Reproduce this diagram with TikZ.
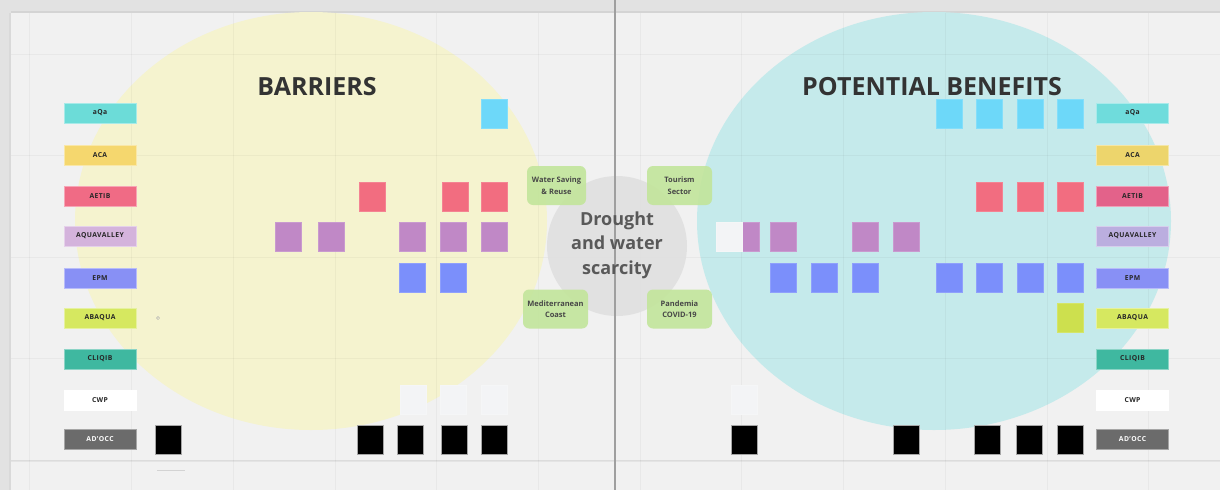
\documentclass[tikz,border=0pt]{standalone}
\usepackage{fontspec}
\setmainfont{Open Sans}
\definecolor{bg}{HTML}{F1F1F1}
\definecolor{frame}{HTML}{E2E2E2}
\definecolor{yel}{HTML}{F5F3CF}
\definecolor{cya}{HTML}{C5EAEB}
\definecolor{circ}{HTML}{E0E0E0}
\definecolor{grn}{HTML}{C2E59B}
\definecolor{txt}{HTML}{333333}
\definecolor{cQa}{HTML}{6CDCD8}
\definecolor{cACA}{HTML}{F5D76E}
\definecolor{cAET}{HTML}{F06B85}
\definecolor{cAQV}{HTML}{D4B3DC}
\definecolor{cEPM}{HTML}{8890F5}
\definecolor{cABA}{HTML}{D6E860}
\definecolor{cCLI}{HTML}{3FB8A0}
\definecolor{cADO}{HTML}{6B6B6B}
\definecolor{rQa}{HTML}{6FDCDC}
\definecolor{rACA}{HTML}{EDD56C}
\definecolor{rAET}{HTML}{E3628A}
\definecolor{rAQV}{HTML}{BBAEDF}
\definecolor{sBlue}{HTML}{6DD8F9}
\definecolor{sRed}{HTML}{F26D80}
\definecolor{sPur}{HTML}{C088C6}
\definecolor{sEPM}{HTML}{7B8FFB}
\definecolor{sLime}{HTML}{CDE04E}
\definecolor{sWht}{HTML}{F3F4F6}
\tikzset{
  lab/.style={minimum width=72pt, minimum height=20pt, inner sep=0pt, draw=#1!60!white, line width=0.8pt, fill=#1, font=\bfseries\fontsize{6.8}{7}\selectfont\addfontfeatures{LetterSpace=6}, text=black!85},
  sq/.style={minimum width=26pt, minimum height=29pt, inner sep=0pt, fill=#1, draw=#1!85!white, line width=0.6pt},
  blk/.style={minimum width=26pt, minimum height=29pt, inner sep=0pt, fill=black, draw=gray!70, line width=0.8pt},
  gbox/.style={rounded corners=6pt, fill=grn, fill opacity=0.9, text opacity=1, minimum height=39pt, inner sep=0pt, align=center, text=txt!90, font=\bfseries\fontsize{7.5}{11.5}\selectfont},
  title/.style={font=\bfseries\fontsize{25}{28}\selectfont, text=txt},
  gridln/.style={black, opacity=0.035, line width=1pt}
}
\begin{document}
\begin{tikzpicture}[x=1pt,y=-1pt]
\useasboundingbox (0,0) rectangle (1220,490);
\fill[frame] (0,0) rectangle (1220,490);
\fill[bg] (11,13) rectangle (1220,490);
\fill[black, opacity=0.06] (11,11) rectangle (1220,13);
\fill[black, opacity=0.04] (9,13) rectangle (11,490);
% ellipses
\fill[yel] (311,221) ellipse [x radius=236, y radius=209];
\fill[cya] (934,221) ellipse [x radius=237, y radius=209];
% grid
\foreach \gx in {29,131,233,335,436,538,640,741,843,945,1047,1148}
  \draw[gridln] (\gx,13) -- (\gx,490);
\foreach \gy in {54,155,257,358,460}
  \draw[gridln] (11,\gy) -- (1220,\gy);
\draw[black, opacity=0.05, line width=1.5pt] (11,461) -- (1220,461);
% center circle
\fill[circ, opacity=0.9] (617,246) circle [radius=70];
\draw[gray!75, line width=1.3pt] (615,0) -- (615,490);
\node[font=\bfseries\fontsize{18}{24.5}\selectfont, text=black!65, align=center] (center) at (617,245) {Drought\\and water\\scarcity};
% green boxes
\node[gbox, minimum width=59pt] (ws) at (556.5,185.5) {Water Saving\\\& Reuse};
\node[gbox, minimum width=65pt] (ts) at (679.5,185.5) {Tourism\\Sector};
\node[gbox, minimum width=65pt] (mc) at (555.5,309) {Mediterranean\\Coast};
\node[gbox, minimum width=65pt] (pc) at (679.5,309) {Pandemia\\COVID-19};
% titles
\node[title] (tb) at (317,87) {BARRIERS};
\node[title] (tp) at (932,87) {POTENTIAL BENEFITS};
% left labels
\node[lab=cQa] (L1) at (100,113) {aQa};
\node[lab=cACA] (L2) at (100,155) {ACA};
\node[lab=cAET] (L3) at (100,196) {AETIB};
\node[lab=cAQV] (L4) at (100,236) {AQUAVALLEY};
\node[lab=cEPM] (L5) at (100,278) {EPM};
\node[lab=cABA] (L6) at (100,318) {ABAQUA};
\node[lab=cCLI] (L7) at (100,359) {CLIQIB};
\node[lab=white, draw=white] (L8) at (100,400) {CWP};
\node[lab=cADO, text=white] (L9) at (100,439) {AD'OCC};
% right labels
\node[lab=rQa] (R1) at (1132.5,113) {aQa};
\node[lab=rACA] (R2) at (1132.5,155) {ACA};
\node[lab=rAET] (R3) at (1132.5,196) {AETIB};
\node[lab=rAQV] (R4) at (1132.5,236) {AQUAVALLEY};
\node[lab=cEPM] (R5) at (1132.5,278) {EPM};
\node[lab=cABA] (R6) at (1132.5,318) {ABAQUA};
\node[lab=cCLI] (R7) at (1132.5,359) {CLIQIB};
\node[lab=white, draw=white] (R8) at (1132.5,400) {CWP};
\node[lab=cADO, text=white] (R9) at (1132.5,439) {AD'OCC};
% left squares
\node[sq=sBlue] (lb1) at (494,114) {};
\foreach \sx [count=\i] in {359,442,481} \node[sq=sRed] (lr\i) at (\sx+13,196.5) {};
\foreach \sx [count=\i] in {275,318,399,440,481} \node[sq=sPur] (lp\i) at (\sx+13,236.5) {};
\foreach \sx [count=\i] in {399,440} \node[sq=sEPM] (le\i) at (\sx+13,277.5) {};
\foreach \sx [count=\i] in {400,440,481} \node[sq=sWht] (lw\i) at (\sx+13,399.5) {};
\foreach \sx [count=\i] in {155,357,397,441,481} \node[blk] (lk\i) at (\sx+13,440) {};
% right squares
\foreach \sx [count=\i] in {936,976,1017,1057} \node[sq=sBlue] (rb\i) at (\sx+13,114) {};
\foreach \sx [count=\i] in {976,1017,1057} \node[sq=sRed] (rr\i) at (\sx+13,196.5) {};
\foreach \sx [count=\i] in {733,770,852,893} \node[sq=sPur] (rp\i) at (\sx+13,236.5) {};
\node[sq=sWht] (rw0) at (729,236.5) {};
\foreach \sx [count=\i] in {770,811,852,936,976,1017,1057} \node[sq=sEPM] (re\i) at (\sx+13,277.5) {};
\node[sq=sLime] (rl1) at (1070,318) {};
\node[sq=sWht] (rw1) at (744,399.5) {};
\foreach \sx [count=\i] in {731,893,974,1016,1057} \node[blk] (rk\i) at (\sx+13,440) {};
% small marks
\draw[gray!60, line width=0.5pt] (158,318) circle [radius=1.6];
\draw[black, opacity=0.12, line width=1pt] (157,470) -- (185,470);
\end{tikzpicture}
\end{document}
